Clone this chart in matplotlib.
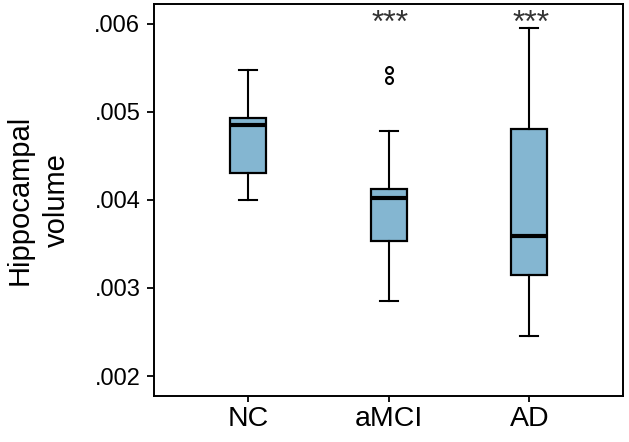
import matplotlib.pyplot as plt
from matplotlib.ticker import FuncFormatter

plt.rcParams['font.family'] = ['Liberation Sans', 'DejaVu Sans']

# five-number summaries
groups = ["NC", "aMCI", "AD"]
whislo = [0.00400, 0.00285, 0.00245]
q1 = [0.00431, 0.00353, 0.00315]
med = [0.00485, 0.00402, 0.00359]
q3 = [0.00493, 0.00412, 0.00481]
whishi = [0.00548, 0.00478, 0.00595]
fliers = [[], [0.00536, 0.00548], []]
stars = ["", "***", "***"]
yticks = [0.002, 0.003, 0.004, 0.005, 0.006]

stats = []
for i, g in enumerate(groups):
    stats.append(dict(label=g, whislo=whislo[i], q1=q1[i], med=med[i],
                      q3=q3[i], whishi=whishi[i], fliers=fliers[i]))

fig = plt.figure(figsize=(6.29, 4.42), dpi=100)
ax = fig.add_axes([0.2448, 0.1041, 0.7462, 0.887])

pos = [1, 2, 3]
ax.bxp(stats, positions=pos, widths=0.256, patch_artist=True,
       boxprops=dict(facecolor="#84B6D1", edgecolor="black", linewidth=1.6),
       medianprops=dict(color="black", linewidth=3),
       whiskerprops=dict(color="black", linewidth=1.5),
       capprops=dict(color="black", linewidth=1.5),
       flierprops=dict(marker="o", markerfacecolor="white", markeredgecolor="black",
                       markersize=5, markeredgewidth=1.5))

for p, s in zip(pos, stars):
    if s:
        ax.text(p + 0.01, 0.00591, s, ha="center", va="baseline", fontsize=23, color="#333333")

ax.set_xlim(0.333, 3.667)
ax.set_ylim(0.001773, 0.006227)
ax.set_yticks(yticks)
ax.yaxis.set_major_formatter(FuncFormatter(lambda v, p: ("%.3f" % v).lstrip("0")))
ax.set_xticks(pos)
ax.set_xticklabels(groups)

ax.tick_params(axis="y", labelsize=17, length=5, width=1.3, pad=4.8)
ax.tick_params(axis="x", labelsize=20.5, length=4.5, width=1.3, pad=2.5)
for sp in ax.spines.values():
    sp.set_linewidth(1.4)

ax.set_ylabel("Hippocampal\nvolume", fontsize=21, linespacing=1.45)
ax.yaxis.set_label_coords(-0.176, 0.5)

fig.savefig("out.png", dpi=100)
